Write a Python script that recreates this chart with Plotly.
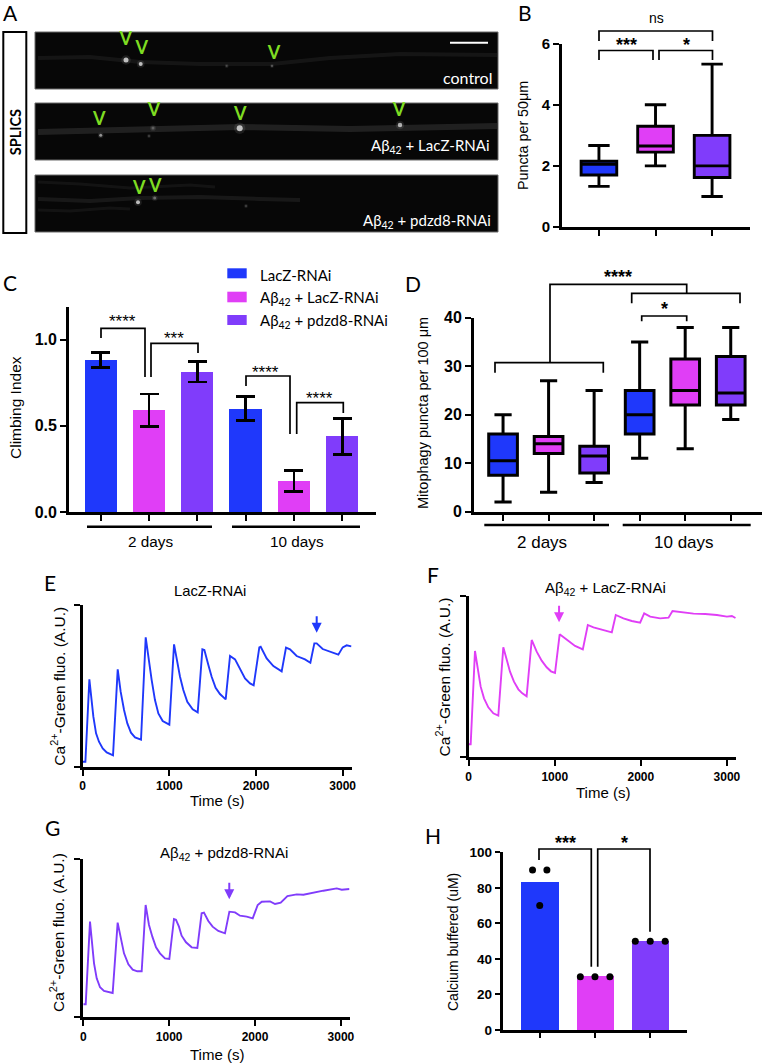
import plotly.graph_objects as go

W, H = 763, 1064
BLUE, MAGENTA, PURPLE = "#1f38fb", "#e03ef6", "#803cfb"
COLORS = [BLUE, MAGENTA, PURPLE]
ARIAL = "Liberation Sans"
LATO = "Lato"
LACZ = "LacZ-RNAi"
AB_LACZ = "Aβ<sub>42</sub> + LacZ-RNAi"
AB_PDZD8 = "Aβ<sub>42</sub> + pdzd8-RNAi"

# ---- data -------------------------------------------------------------
# Panel A: punctum positions and faint neurite streaks (image-pixel space)
spots_x = [126, 140.7, 272, 226.7, 100.7, 153, 239.7, 400, 149, 138, 154.7, 246]
spots_y = [60, 64, 66, 66, 135.3, 128, 128.3, 125, 136, 202.3, 198, 206]
spots_size = [5, 4, 2, 2, 3, 3, 6, 4.5, 2, 4, 3, 2]
spots_bright = [1, 1, .4, .25, .75, .3, 1, .9, .25, 1, .45, .25]
v_x = [125.7, 141.7, 274, 99.3, 154, 240.3, 399, 139.3, 155.3]
v_y = [40.7, 49, 54.3, 120.3, 111.3, 115.7, 111.7, 189, 187.7]
streak_control_x = [38, 90, 140, 200, 272, 330, 400, 497]
streak_control_y = [58, 57, 62, 64, 64, 58, 54, 55]
streak_lacz_x = [38, 120, 240, 350, 420, 497]
streak_lacz_y = [132, 130, 127, 129, 127, 126]
streak_pd1_x = [38, 80, 130, 190, 215]
streak_pd1_y = [182, 184, 188, 185, 187]
streak_pd2_x = [38, 90, 140, 200, 260, 300]
streak_pd2_y = [199, 201, 198, 197, 199, 200]
streak_pd3_x = [38, 70, 110, 130]
streak_pd3_y = [210, 211, 208, 209]

# Panel B
b_pos = [1, 2, 3]
b_low = [1.33, 2.0, 1.0]
b_q1 = [1.7, 2.45, 1.62]
b_med = [2.05, 2.65, 2.0]
b_q3 = [2.15, 3.3, 3.0]
b_high = [2.67, 4.0, 5.33]

# Panel C
c_pos = [1, 2, 3, 4, 5, 6]
c_val = [0.885, 0.59, 0.815, 0.60, 0.18, 0.44]
c_up = [0.925, 0.685, 0.875, 0.67, 0.24, 0.545]
c_down = [0.84, 0.495, 0.755, 0.53, 0.12, 0.335]

# Panel D
d_pos = [1, 2, 3, 4, 5, 6]
d_low = [2, 4, 6, 11, 13, 19]
d_q1 = [7.5, 12, 8, 16, 22, 22]
d_med = [10.5, 14, 11.5, 20, 25, 24.5]
d_q3 = [16, 15.5, 13.5, 25, 31.5, 32]
d_high = [20, 27, 25, 35, 38, 38]

# Panels E, F, G: calcium traces (arbitrary units)
e_t = [0, 31, 77, 100, 123, 154, 188, 231, 277, 350, 404, 438, 477, 515, 557, 604, 673,
       727, 757, 796, 834, 873, 923, 1000, 1054, 1084, 1123, 1161, 1207, 1269, 1327,
       1381, 1404, 1450, 1488, 1534, 1584, 1650, 1700, 1758, 1815, 1873, 1931, 1973,
       2038, 2054, 2123, 2200, 2296, 2346, 2392, 2469, 2565, 2627, 2673, 2700, 2769, 2854, 2950, 3000, 3046, 3100]
e_v = [15, 15, 262, 210, 150, 100, 75, 55, 43, 34, 292, 225, 170, 130, 102, 88, 81,
       388, 330, 260, 200, 160, 137, 126, 367, 325, 270, 230, 195, 172, 163,
       352, 350, 305, 270, 237, 218, 202, 332, 322, 295, 265, 250, 244,
       358, 360, 325, 302, 286, 357, 352, 332, 322, 312, 370, 370, 353, 346, 336, 358, 364, 361]
f_t = [0, 23, 73, 104, 139, 178, 228, 286, 344, 402, 441, 480, 526, 577, 623, 673,
       732, 790, 848, 906, 956, 1003, 1057, 1140,
       1236, 1326, 1384, 1450, 1566, 1663, 1709, 1798, 1895, 1992, 2039, 2109, 2225, 2322, 2368, 2496, 2612,
       2748, 2884, 3000, 3058, 3100]
f_v = [39, 39, 319, 262, 212, 177, 150, 132, 125, 330, 292, 257, 227, 204, 192, 183,
       352, 317, 290, 270, 258, 253, 369, 354,
       334, 324, 397, 390, 382, 375, 427, 417, 409, 404, 432, 422, 417, 419, 439, 435, 431,
       430, 427, 422, 424, 418]
g_t = [0, 28, 78, 102, 125, 156, 195, 241, 292, 342, 400, 435, 474, 525, 575, 629, 680,
       726, 765, 804, 847, 893, 951, 1002, 1056, 1079, 1114, 1145, 1196, 1262, 1328,
       1378, 1405, 1456, 1506, 1572, 1650, 1701, 1767, 1825, 1903, 1973, 2031,
       2078, 2175, 2233, 2299, 2377, 2485, 2563, 2680, 2796, 2951, 3010, 3100]
g_v = [39, 39, 287, 217, 162, 117, 90, 79, 75, 73, 284, 237, 192, 159, 143, 138, 138,
       337, 277, 242, 210, 192, 177, 175, 295, 293, 272, 245, 225, 210, 208,
       312, 314, 289, 272, 259, 252, 317, 315, 305, 302, 297, 337,
       347, 348, 340, 344, 364, 369, 368, 375, 380, 387, 383, 385]

# Panel H
h_pos = [1, 2, 3]
h_val = [83.3, 30, 50]
h_dots_x = [0.87, 1.13, 1.0, 1.735, 2.0, 2.27, 2.73, 3.0, 3.27]
h_dots_y = [90, 90, 70, 30, 30, 30, 50, 50, 50]
time_ticks = [0, 1000, 2000, 3000]


# ---- helpers ----------------------------------------------------------
def px(x):
    return x / W


def py(y):
    return 1 - y / H


fig = go.Figure()
shapes, annos = [], []


def note(x, y, text, size=14, color="black", family=ARIAL, angle=0, anchor="center", bold=False):
    annos.append(dict(x=px(x), y=py(y), xref="paper", yref="paper", text=text, showarrow=False,
                      xanchor=anchor, yanchor="middle", textangle=angle,
                      font=dict(size=size, color=color, family=family, weight=700 if bold else 400)))


def path(points, width=2.0):
    d = "M" + " L".join(f"{px(a):.5f},{py(b):.5f}" for a, b in points)
    shapes.append(dict(type="path", path=d, xref="paper", yref="paper",
                       line=dict(color="black", width=width)))


def rect(x0, y0, x1, y1, fill, line=None, lw=0):
    shapes.append(dict(type="rect", xref="paper", yref="paper", x0=px(x0), x1=px(x1), y0=py(y0), y1=py(y1),
                       fillcolor=fill, line=dict(color=line or fill, width=lw), layer="below"))


def stars(x, y, n, size=18, bold=True):
    note(x, y + 4.5, "*" * n, size=size, bold=bold)


def axes(name, x0, x1, y0, y1, xr, yr, xticks, yticks, yticktext=None, xticktext=None,
         tick=15, lw=2.8, tl=6, tw=2.4):
    """Create a cartesian axis pair from pixel bounds."""
    suffix = "" if name == 1 else str(name)
    base = dict(showgrid=False, zeroline=False, showline=True, linecolor="black", linewidth=lw, automargin=False,
                ticks="outside", ticklen=tl, tickwidth=tw, tickcolor="black", fixedrange=True)
    font = dict(family=ARIAL, size=tick, color="black", weight=700)
    xa_ = dict(base, domain=[px(x0), px(x1)], range=xr, tickmode="array", tickvals=xticks, anchor="y" + suffix,
               tickfont=font, showticklabels=xticktext is not None)
    if xticktext is not None:
        xa_["ticktext"] = xticktext
    ya_ = dict(base, domain=[py(y1), py(y0)], range=yr, tickmode="array", tickvals=yticks, anchor="x" + suffix,
               tickfont=font, showticklabels=yticktext is not False)
    if yticktext:
        ya_["ticktext"] = yticktext
    fig.layout["xaxis" + suffix] = xa_
    fig.layout["yaxis" + suffix] = ya_
    return "x" + suffix, "y" + suffix


def box(xa, ya, pos, low, q1, med, q3, high, width, lw):
    for i in range(len(pos)):
        fig.add_trace(go.Box(x=[pos[i]], lowerfence=[low[i]], q1=[q1[i]], median=[med[i]], q3=[q3[i]],
                             upperfence=[high[i]], width=width, whiskerwidth=0.6, boxpoints=False,
                             fillcolor=COLORS[i % 3], line=dict(color="black", width=lw),
                             xaxis=xa, yaxis=ya, showlegend=False))


def curve(xa, ya, t, v, color, arrow_t, arrow_v):
    fig.add_trace(go.Scatter(x=t, y=v, mode="lines", line=dict(color=color, width=1.9), xaxis=xa, yaxis=ya,
                             showlegend=False))
    annos.append(dict(x=arrow_t, y=arrow_v, xref=xa, yref=ya, ax=0, ay=-18, axref="pixel", ayref="pixel",
                      text="", showarrow=True, arrowhead=2, arrowsize=1, arrowwidth=2, arrowcolor=color))


# ---- Panel A ----------------------------------------------------------
xa, ya = "x", "y"
fig.layout.xaxis = dict(domain=[0, px(510)], range=[0, 510], visible=False, anchor="y", fixedrange=True, automargin=False)
fig.layout.yaxis = dict(domain=[py(240), 1], range=[240, 0], visible=False, anchor="x", fixedrange=True, automargin=False)
for y0, y1 in [(32, 89), (103, 160), (175, 232)]:
    rect(35, y0, 498, y1, "#070707", "#6a6a6a", 1)
rect(3.3, 32, 26.3, 233, "white", "black", 2)
for sx, sy, c, wd in [(streak_control_x, streak_control_y, "rgba(255,255,255,0.06)", 4),
                      (streak_lacz_x, streak_lacz_y, "rgba(255,255,255,0.10)", 6),
                      (streak_pd1_x, streak_pd1_y, "rgba(255,255,255,0.05)", 3),
                      (streak_pd2_x, streak_pd2_y, "rgba(255,255,255,0.07)", 4),
                      (streak_pd3_x, streak_pd3_y, "rgba(255,255,255,0.05)", 3)]:
    fig.add_trace(go.Scatter(x=sx, y=sy, mode="lines", line=dict(color=c, width=wd), xaxis=xa, yaxis=ya,
                             showlegend=False))
fig.add_trace(go.Scatter(x=spots_x, y=spots_y, mode="markers", xaxis=xa, yaxis=ya, showlegend=False,
                         marker=dict(size=[s * 1.9 for s in spots_size], color="white", opacity=0.09, line=dict(width=0))))
fig.add_trace(go.Scatter(x=spots_x, y=spots_y, mode="markers", xaxis=xa, yaxis=ya, showlegend=False,
                         marker=dict(size=spots_size, color=[f"rgba(255,255,255,{b})" for b in spots_bright],
                                     line=dict(width=0))))
fig.add_trace(go.Scatter(x=v_x, y=v_y, mode="text", text=["V"] * len(v_x), xaxis=xa, yaxis=ya, showlegend=False,
                         textposition="middle center", cliponaxis=False,
                         textfont=dict(size=18, color="#7edc22", family=LATO, weight=700)))
rect(450, 41.7, 488, 43.7, "white")
note(494, 77, "control", 16, "white", LATO, anchor="right")
note(492, 146, AB_LACZ, 15, "white", LATO, anchor="right")
note(493, 220.7, AB_PDZD8, 15, "white", LATO, anchor="right")
note(15.3, 132, "SPLICS", 14.5, "black", LATO, angle=-90, bold=True)

# ---- Panel B ----------------------------------------------------------
xa, ya = axes(2, 562, 750, 43.7, 227, [0.347, 3.67], [0, 6], b_pos, [0, 2, 4, 6], tick=15)
box(xa, ya, b_pos, b_low, b_q1, b_med, b_q3, b_high, 0.63, 2.9)
note(523, 136, "Puncta per 50μm", 14.3, angle=-90)
note(656, 18, "ns", 14)
path([(599, 41), (599, 31), (712.5, 31), (712.5, 41)], 1.7)
path([(599, 60), (599, 50.5), (653, 50.5), (653, 60)], 1.7)
path([(659, 60), (659, 50.5), (712.5, 50.5), (712.5, 60)], 1.7)
stars(626, 41, 3)
stars(686, 41, 1)

# ---- Panel C ----------------------------------------------------------
xa, ya = axes(3, 69, 376, 307, 512, [0.343, 6.7], [0, 1.19], c_pos, [0, 0.5, 1.0], ["0.0", "0.5", "1.0"], tick=16)
fig.add_trace(go.Bar(x=c_pos, y=c_val, width=0.67, marker=dict(color=COLORS * 2, line=dict(width=0)),
                     xaxis=xa, yaxis=ya, showlegend=False,
                     error_y=dict(type="data", symmetric=False,
                                  array=[u - v for u, v in zip(c_up, c_val)],
                                  arrayminus=[v - d for v, d in zip(c_val, c_down)],
                                  color="black", thickness=2.8, width=9.5)))
note(16, 408, "Climbing Index", 15.5, angle=-90)
path([(101, 338), (101, 328.3), (145, 328.3), (145, 377)], 1.7)
path([(151, 377), (151, 343.3), (198, 343.3), (198, 353)], 1.7)
path([(246, 386), (246, 376), (290, 376), (290, 434)], 1.7)
path([(296.7, 434), (296.7, 402.7), (343.3, 402.7), (343.3, 413)], 1.7)
stars(122, 317, 4, 17, False)
stars(174, 334, 3, 17, False)
stars(265.7, 367.7, 4, 17, False)
stars(319, 394, 4, 17, False)
path([(87, 526.7), (212, 526.7)], 2.4)
path([(232, 526.7), (360, 526.7)], 2.4)
note(150.7, 541, "2 days", 15.3)
note(297, 541, "10 days", 15.3)
for (y0, y1, yt, label, col) in [(268.3, 278.3, 274.7, LACZ, BLUE),
                                 (291.7, 302.3, 298, AB_LACZ, MAGENTA),
                                 (315, 325, 321.3, AB_PDZD8, PURPLE)]:
    rect(227.3, y0, 246.7, y1, col)
    note(257.7, yt, label, 15, family=LATO, anchor="left")

# ---- Panel D ----------------------------------------------------------
xa, ya = axes(4, 474, 761.7, 317.7, 511.7, [0.362, 6.68], [0, 40], d_pos, [0, 10, 20, 30, 40], tick=16)
box(xa, ya, d_pos, d_low, d_q1, d_med, d_q3, d_high, 0.63, 3)
note(423, 413, "Mitophagy puncta per 100 μm", 14.5, angle=-90)
path([(495, 372.7), (495, 362.7), (603.3, 362.7), (603.3, 372.7)], 1.7)
path([(550, 362.7), (550, 284.3), (686.7, 284.3), (686.7, 293.3)], 1.7)
path([(631.7, 303.3), (631.7, 293.3), (740, 293.3), (740, 303.3)], 1.7)
path([(641.7, 321.3), (641.7, 316), (686.7, 316), (686.7, 321.3)], 1.7)
stars(618, 272.7, 4)
stars(664, 305, 1)
path([(484.3, 525), (609, 525)], 2.4)
path([(622.7, 525), (750.7, 525)], 2.4)
note(541.7, 542.7, "2 days", 17)
note(684, 542.7, "10 days", 17)

# ---- Panel E ----------------------------------------------------------
xa, ya = axes(5, 82.7, 351.7, 604.7, 766.7, [0, 3104], [0, 486], time_ticks, [0, 486], False,
              [str(v) for v in time_ticks], tick=12)
curve(xa, ya, e_t, e_v, BLUE, 2700, 402)
note(58, 686.7, "Ca<sup>2+</sup>-Green fluo. (A.U.)", 15.5, angle=-90)
note(217, 800, "Time (s)", 15)
note(210, 590.7, LACZ, 14.8)

# ---- Panel F ----------------------------------------------------------
xa, ya = axes(6, 468.7, 736, 596, 757.3, [0, 3106], [0, 484], time_ticks, [0, 484], False,
              [str(v) for v in time_ticks], tick=12)
curve(xa, ya, f_t, f_v, MAGENTA, 1050, 405)
note(442.7, 676.7, "Ca<sup>2+</sup>-Green fluo. (A.U.)", 15.5, angle=-90)
note(602.7, 792.7, "Time (s)", 15)
note(605, 588, AB_LACZ, 15)

# ---- Panel G ----------------------------------------------------------
xa, ya = axes(7, 83.3, 349.5, 858.7, 1017.3, [0, 3100], [0, 476], time_ticks, [0, 476], False,
              [str(v) for v in time_ticks], tick=12)
curve(xa, ya, g_t, g_v, PURPLE, 1700, 354)
note(57, 933, "Ca<sup>2+</sup>-Green fluo. (A.U.)", 15.5, angle=-90)
note(216.7, 1054, "Time (s)", 15)
note(224, 853, AB_PDZD8, 15)

# ---- Panel H ----------------------------------------------------------
xa, ya = axes(8, 502.7, 686.7, 852.3, 1030, [0.33, 3.66], [0, 100], h_pos, [0, 20, 40, 60, 80, 100], tick=13.5, tl=5)
fig.add_trace(go.Bar(x=h_pos, y=h_val, width=0.675, marker=dict(color=COLORS, line=dict(width=0)),
                     xaxis=xa, yaxis=ya, showlegend=False))
fig.add_trace(go.Scatter(x=h_dots_x, y=h_dots_y, mode="markers", marker=dict(color="black", size=7),
                         xaxis=xa, yaxis=ya, showlegend=False, cliponaxis=False))
note(452.3, 941.7, "Calcium buffered (uM)", 14, angle=-90)
path([(539, 860), (539, 849), (591.3, 849), (591.3, 966.7)], 1.7)
path([(597.7, 966.7), (597.7, 849), (650, 849), (650, 931.7)], 1.7)
stars(565, 838, 3)
stars(624, 838, 1)

# ---- panel letters ----------------------------------------------------
for x, y, letter in [(10, 13, "A"), (525, 13, "B"), (10, 282, "C"), (413, 283, "D"),
                     (50, 582, "E"), (433, 574, "F"), (52, 827, "G"), (433, 835, "H")]:
    note(x, y, letter, 21, family=LATO)

fig.update_layout(width=W, height=H, margin=dict(l=0, r=0, t=0, b=0), autosize=False,
                  paper_bgcolor="white", plot_bgcolor="rgba(0,0,0,0)", showlegend=False,
                  shapes=shapes, annotations=annos, bargap=0,
                  font=dict(family=ARIAL, color="black"))
fig.write_html("out.html", config={"displayModeBar": False}, post_script="document.body.style.margin='0';")
